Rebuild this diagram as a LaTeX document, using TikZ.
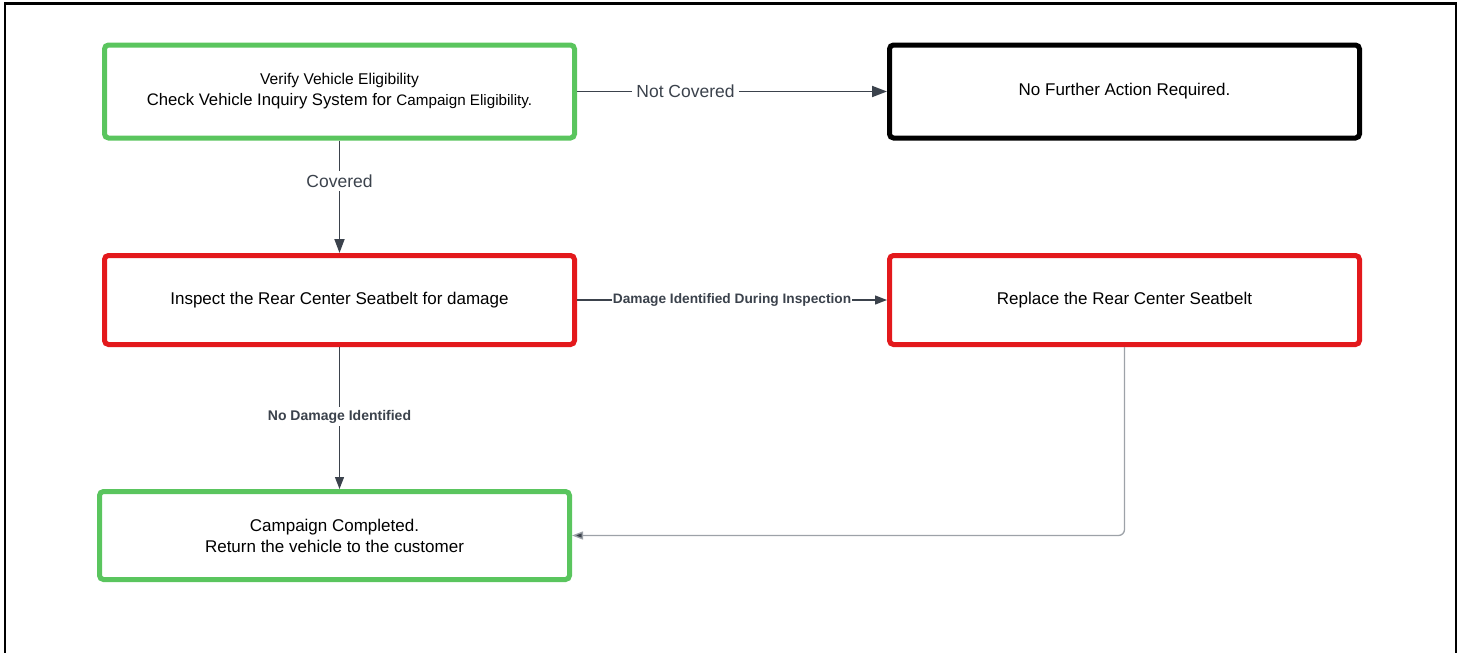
\documentclass[tikz,border=0pt]{standalone}
\usepackage{fontspec}
\setmainfont{Liberation Sans}
\usetikzlibrary{arrows.meta,calc}
\definecolor{boxgreen}{HTML}{5AC55E}
\definecolor{boxred}{HTML}{E3191C}
\definecolor{linkc}{HTML}{3B424C}
\definecolor{greyc}{HTML}{9DA2A8}
\tikzset{
  box/.style={draw, line width=5pt, rounded corners=4pt, minimum width=470pt, minimum height=93pt, align=center, font=\fontsize{17}{21}\selectfont, inner sep=0pt},
  gbox/.style={box, draw=boxgreen},
  rbox/.style={box, draw=boxred},
  kbox/.style={box, draw=black},
  link/.style={draw=linkc, line width=1.8pt, -{Triangle[length=15pt,width=11pt]}},
  lbl/.style={fill=white, text=linkc, inner sep=4pt, font=\fontsize{17.5}{20}\selectfont},
  blbl/.style={fill=white, text=linkc, inner sep=1pt, font=\bfseries},
}
\begin{document}
\begin{tikzpicture}[x=1pt,y=-1pt]
\useasboundingbox (0,0) rectangle (1462,653);
\draw[line width=2.5pt] (5,700) -- (5,3.5) -- (1456,3.5) -- (1456,700);
\node[gbox] (verify) at (339.5,91.5) {{\fontsize{15.6}{20}\selectfont Verify Vehicle Eligibility}\\{\fontsize{16.7}{20}\selectfont Check Vehicle Inquiry System for }{\fontsize{15.2}{20}\selectfont Campaign Eligibility.}};
\node[kbox] (nofurther) at (1124.5,91.5) {No Further Action Required.};
\node[rbox, minimum height=89pt] (inspect) at (339.5,300) {Inspect the Rear Center Seatbelt for damage};
\node[rbox, minimum height=89pt] (replace) at (1124.5,300) {Replace the Rear Center Seatbelt};
\node[gbox, minimum height=88pt] (done) at (334.5,535.5) {Campaign Completed.\\Return the vehicle to the customer};
\draw[link] (verify.east) -- node[lbl, pos=0.35] {Not Covered} (nofurther.west);
\draw[link, -{Triangle[length=14pt,width=10pt]}] (verify.south) -- node[lbl, pos=0.36] {Covered} (inspect.north);
\draw[link, line width=1.3pt, -{Triangle[length=12pt,width=9pt]}] (inspect.east) -- node[blbl, font=\bfseries\fontsize{13.7}{16}\selectfont] {Damage Identified During Inspection} (nofurther.west |- inspect.east);
\draw[link, line width=1.3pt, -{Triangle[length=12pt,width=9pt]}] (inspect.south) -- node[blbl, inner sep=3pt, font=\bfseries\fontsize{14}{16}\selectfont, pos=0.49] {No Damage Identified} (inspect.south |- done.north);
\draw[draw=greyc, line width=1.3pt, rounded corners=6pt, -{Triangle[length=11pt,width=8pt,fill=linkc]}] (replace.south) |- (done.east);
\end{tikzpicture}
\end{document}
